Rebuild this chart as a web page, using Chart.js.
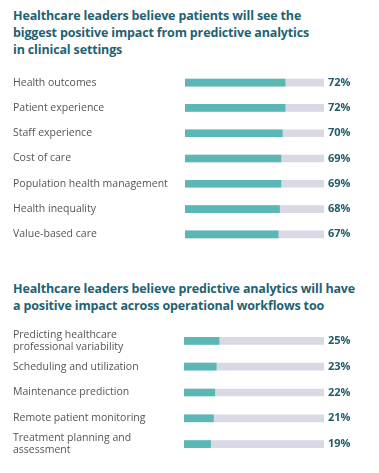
<!DOCTYPE html>
<html><head><meta charset="utf-8">
<script src="https://cdn.jsdelivr.net/npm/chart.js@4"></script>
<style>
html,body{margin:0;padding:0;background:#fff;width:379px;height:473px;overflow:hidden;}
.t{position:absolute;left:13px;font-family:"Open Sans",sans-serif;font-weight:700;font-size:12.5px;line-height:16.8px;color:#1f6272;letter-spacing:-0.15px;}
.c{position:absolute;left:0;width:379px;}
</style></head><body>
<div class="t" id="t1" style="top:8px;">Healthcare leaders believe patients will see the<br>biggest positive impact from predictive analytics<br>in clinical settings</div>
<div class="t" id="t2" style="top:281px;">Healthcare leaders believe predictive analytics will have<br>a positive impact across operational workflows too</div>
<div class="c" style="top:70px;height:177px;"><canvas id="c1"></canvas></div>
<div class="c" style="top:328px;height:129px;"><canvas id="c2"></canvas></div>
<script>
const clinicalCategories = ["Health outcomes","Patient experience","Staff experience","Cost of care","Population health management","Health inequality","Value-based care"];
const clinicalValues = [72,72,70,69,69,68,67];
const operationalCategories = [["Predicting healthcare","professional variability"],"Scheduling and utilization","Maintenance prediction","Remote patient monitoring",["Treatment planning and","assessment"]];
const operationalValues = [25,23,22,21,19];
const trackMax = 100;

const TEAL = '#5bb6b6', GREY = '#d9d9e3', LABEL = '#555555', VAL = '#225c6a';

function noPad(s) { s.paddingTop = 0; s.paddingBottom = 0; }

function makeChart(id, cats, vals, leftEdge) {
  const valueLabels = vals.map(v => v + '%');
  const track = cats.map(() => trackMax);
  return new Chart(document.getElementById(id), {
    type: 'bar',
    data: {
      labels: cats,
      datasets: [
        {data: vals, backgroundColor: TEAL, barThickness: 7, order: 0, grouped: false, yAxisID: 'y'},
        {data: track, backgroundColor: GREY, barThickness: 7, order: 1, grouped: false, yAxisID: 'y'}
      ]
    },
    options: {
      indexAxis: 'y',
      responsive: true, maintainAspectRatio: false, animation: false,
      layout: {padding: {left: 13, right: 0, top: 0, bottom: 0}},
      plugins: {legend: {display: false}, tooltip: {enabled: false}, title: {display: false}},
      scales: {
        x: {min: 0, max: trackMax, display: false},
        y: {
          position: 'left',
          grid: {display: false, drawTicks: false}, border: {display: false},
          ticks: {autoSkip: false, crossAlign: 'far', padding: 0, color: LABEL, font: {family: 'Open Sans', size: 10.5, lineHeight: 1.1}},
          afterFit: s => { s.width = leftEdge - 13; noPad(s); }
        },
        y2: {
          type: 'category', labels: valueLabels, position: 'right', offset: true,
          grid: {display: false, drawTicks: false}, border: {display: false},
          ticks: {autoSkip: false, crossAlign: 'near', padding: 4, color: VAL, font: {family: 'Open Sans', size: 11, weight: 'bold'}},
          afterFit: s => { s.width = 379 - 324; noPad(s); }
        }
      }
    }
  });
}
makeChart('c1', clinicalCategories, clinicalValues, 185);
makeChart('c2', operationalCategories, operationalValues, 184);
</script>
</body></html>
